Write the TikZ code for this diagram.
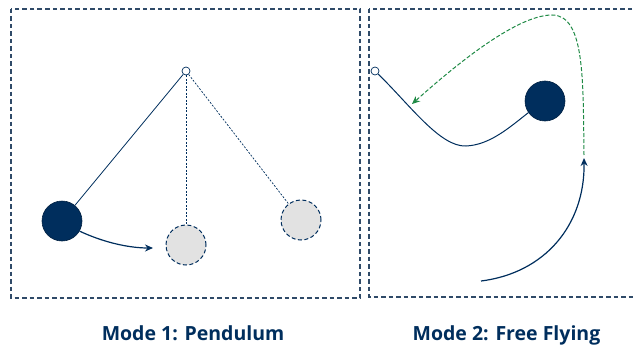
\documentclass[tikz,border=0pt]{standalone}
\usepackage{fontspec}
\setmainfont{Open Sans}
\usetikzlibrary{arrows.meta}
\definecolor{navy}{HTML}{002E5D}
\definecolor{framec}{HTML}{2F4A68}
\definecolor{ghost}{HTML}{E2E2E2}
\definecolor{flygreen}{HTML}{1F8A45}
\tikzset{
  frame/.style={draw=framec, line width=1.1pt, dash pattern=on 4.5pt off 3pt},
  ball/.style={circle, draw=navy!70!black, fill=navy, minimum size=40pt, inner sep=0pt, line width=0.6pt},
  ghostball/.style={circle, draw=navy, fill=ghost, minimum size=40pt, inner sep=0pt, line width=1pt, dash pattern=on 4pt off 2.5pt},
  pivot/.style={circle, draw=navy, fill=white, minimum size=8pt, inner sep=0pt, line width=0.7pt},
  rope/.style={draw=navy, line width=0.8pt},
  ghostrope/.style={draw=navy, line width=0.7pt, dash pattern=on 2pt off 1.5pt},
  motion/.style={draw=navy, line width=1.2pt, -{Stealth[length=8pt,width=7pt]}},
  flight/.style={draw=flygreen, line width=1pt, dash pattern=on 4pt off 2pt, -{Stealth[length=8pt,width=7pt]}},
  caption/.style={font=\fontsize{19.5}{23}\selectfont\bfseries, text=navy, anchor=base, inner sep=0pt}
}
\begin{document}
\begin{tikzpicture}[x=1pt,y=-1pt]
\useasboundingbox (0,0) rectangle (634,345);
% frames
\draw[frame] (11,9) rectangle (360,298);
\draw[frame] (369,9) rectangle (640,297);
% Mode 1
\node[pivot] (p1) at (186,71) {};
\node[ghostball] (g1) at (186,245) {};
\node[ghostball] (g2) at (301,220) {};
\node[ball] (b1) at (62,221) {};
\draw[ghostrope] (p1) -- (g1);
\draw[ghostrope] (p1) -- (g2);
\draw[rope] (p1) -- (b1);
\coordinate (m1end) at (153,248);
\draw[motion] (b1.-30) .. controls (105,243) and (130,248) .. (m1end);
% Mode 2
\node[pivot] (p2) at (375,71) {};
\node[ball] (b2) at (545,101) {};
\coordinate (low) at (466,146);
\draw[rope, line width=1pt] (p2) .. controls (410,105) and (440,147) .. (low) .. controls (490,145) and (510,127) .. (b2.-145);
\coordinate (flystart) at (481,281);
\coordinate (flyapex) at (584,158);
\draw[motion] (flystart) .. controls (545,273) and (585,225) .. (flyapex);
\coordinate (top) at (552,15);
\coordinate (greenend) at (412,104);
\draw[flight] (584,155) .. controls (583,80) and (585,15) .. (top) .. controls (515,15) and (450,70) .. (greenend);
% captions
\node[caption] (c1) at (193,340) {Mode 1: Pendulum};
\node[caption] (c2) at (506.5,340) {Mode 2: Free Flying};
\end{tikzpicture}
\end{document}
